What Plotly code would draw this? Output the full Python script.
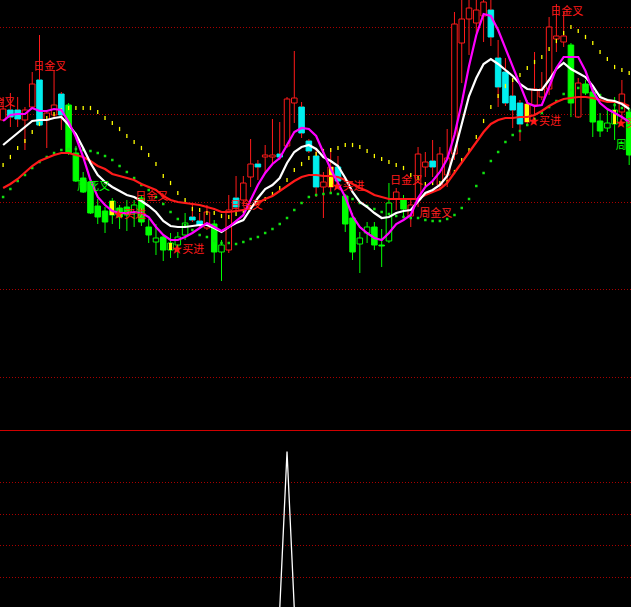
import plotly.graph_objects as go

# ---------------- data ----------------
idx = list(range(87))

open_ = [31.0, 32.0, 32.0, 31.0, 32.3, 35.0, 31.0, 31.5, 33.6, 32.5,
         27.7, 25.2, 24.8, 22.4, 21.9, 21.5, 22.2, 22.3, 21.7, 23.2,
         20.3, 18.8, 19.3, 18.0, 18.5, 19.5, 21.3, 20.9, 20.2, 20.6,
         17.8, 18.0, 23.2, 23.0, 25.3, 26.6, 27.3, 27.3, 27.6, 28.4,
         32.7, 32.3, 28.9, 27.4, 24.3, 24.3, 26.3, 23.4, 21.2, 18.6,
         19.7, 20.3, 18.5, 18.9, 23.1, 23.0, 21.4, 23.0, 26.3, 26.9,
         24.5, 25.5, 27.6, 38.7, 41.1, 40.7, 41.4, 42.0, 37.2, 35.8,
         33.4, 32.7, 30.8, 32.5, 33.3, 34.1, 39.1, 38.8, 38.5, 31.3,
         34.6, 33.8, 30.9, 30.2, 30.6, 31.8, 31.8]
close = [32.1, 31.3, 31.1, 32.0, 34.6, 30.5, 31.7, 32.5, 31.5, 27.7,
         24.9, 23.8, 21.7, 21.3, 20.8, 22.9, 21.3, 21.5, 22.5, 20.8,
         19.5, 19.2, 18.0, 18.7, 19.3, 20.7, 21.0, 20.5, 21.8, 17.8,
         18.5, 22.0, 22.3, 24.7, 26.6, 26.3, 27.5, 27.5, 27.3, 33.1,
         33.2, 29.7, 27.9, 24.3, 24.8, 26.3, 24.9, 20.6, 17.8, 19.2,
         20.3, 18.5, 18.4, 22.7, 23.8, 22.1, 22.5, 27.6, 26.8, 26.3,
         27.6, 27.2, 40.6, 41.1, 42.2, 42.0, 42.8, 39.3, 34.3, 32.7,
         32.0, 30.6, 32.6, 34.1, 34.1, 40.3, 39.4, 39.4, 32.7, 34.7,
         33.7, 30.8, 29.9, 30.7, 32.0, 33.6, 27.5]
high = [33.3, 33.7, 33.3, 32.3, 35.8, 39.5, 32.0, 36.0, 33.8, 32.7,
        28.4, 25.8, 25.2, 23.1, 22.3, 23.2, 22.5, 23.0, 23.0, 23.5,
        21.1, 20.6, 19.5, 19.7, 19.8, 21.7, 22.5, 21.7, 22.5, 21.0,
        19.0, 23.5, 25.4, 25.4, 29.1, 27.0, 28.5, 31.1, 30.8, 33.3,
        37.9, 32.8, 29.1, 28.0, 25.8, 28.2, 27.4, 23.6, 21.7, 19.8,
        20.8, 20.8, 20.1, 24.7, 24.2, 23.5, 23.0, 28.3, 27.8, 29.0,
        28.3, 30.1, 41.8, 43.5, 43.5, 43.3, 43.5, 43.3, 39.0, 37.2,
        34.9, 33.0, 33.0, 37.8, 35.8, 41.3, 42.6, 41.8, 38.7, 35.2,
        35.0, 34.2, 31.7, 32.2, 33.3, 35.0, 32.2]
low = [30.9, 30.3, 30.3, 28.0, 32.2, 30.4, 28.2, 31.2, 30.0, 27.5,
       24.8, 23.7, 21.6, 20.6, 19.7, 20.6, 20.1, 19.9, 20.3, 20.4,
       18.7, 17.5, 16.9, 17.2, 17.2, 19.0, 20.8, 20.2, 20.0, 16.7,
       14.9, 17.7, 22.0, 22.5, 24.3, 25.0, 25.7, 26.5, 27.0, 28.2,
       30.7, 29.2, 27.7, 23.3, 21.2, 23.8, 24.7, 19.8, 17.0, 15.7,
       18.7, 18.0, 16.3, 18.7, 22.0, 21.3, 20.3, 22.3, 25.3, 25.3,
       24.2, 24.3, 27.0, 34.7, 37.5, 39.7, 38.8, 38.4, 32.3, 32.4,
       30.2, 28.9, 30.6, 31.4, 33.0, 33.5, 37.8, 38.3, 31.3, 31.2,
       33.5, 29.3, 29.3, 29.8, 29.0, 31.0, 26.5]
# 1 = bar painted green by the indicator
weak = [0, 0, 0, 0, 0, 0, 0, 0, 0, 1,
        1, 1, 1, 1, 1, 1, 1, 1, 1, 1,
        1, 1, 1, 1, 1, 1, 0, 0, 0, 1,
        1, 0, 0, 0, 0, 0, 0, 0, 0, 0,
        0, 0, 0, 0, 0, 0, 0, 1, 1, 1,
        1, 1, 1, 1, 0, 1, 0, 0, 0, 0,
        0, 0, 0, 0, 0, 0, 0, 0, 0, 0,
        0, 0, 0, 0, 0, 0, 0, 0, 1, 0,
        1, 1, 1, 1, 1, 0, 1]

ma_short = [30.9, 31.5, 31.6, 31.6, 32.2, 31.9, 31.9, 32.1, 32.0, 30.8,
            29.3, 27.3, 25.0, 23.3, 22.5, 21.9, 21.7, 21.7, 21.8, 21.7,
            21.3, 20.3, 19.5, 19.0, 19.0, 19.3, 19.7, 20.2, 20.7, 20.3,
            19.9, 20.3, 20.9, 21.5, 23.0, 24.5, 25.7, 26.6, 27.2, 28.5,
            29.8, 30.2, 30.1, 29.4, 27.7, 26.1, 24.7, 23.3, 21.4, 20.3,
            19.7, 19.2, 19.0, 19.7, 20.6, 21.0, 21.5, 23.2, 24.3, 24.9,
            25.8, 27.1, 29.5, 32.7, 36.4, 39.5, 41.6, 41.4, 40.0, 38.2,
            36.3, 34.5, 32.7, 32.4, 32.5, 34.3, 36.2, 37.3, 37.3, 37.3,
            35.9, 33.9, 32.7, 32.1, 31.7, 31.3, 30.8]
ma_mid = [28.5, 29.1, 29.7, 30.3, 30.9, 31.0, 31.0, 31.2, 31.3, 30.5,
          29.6, 28.2, 26.7, 25.5, 24.8, 24.3, 23.9, 23.5, 23.3, 22.9,
          22.4, 21.8, 20.9, 20.4, 20.3, 20.3, 20.4, 20.5, 20.5, 20.2,
          19.8, 20.3, 20.7, 21.0, 22.1, 23.2, 24.1, 24.5, 25.2, 26.7,
          27.8, 28.3, 28.5, 28.1, 27.3, 26.9, 26.4, 25.2, 23.8, 22.8,
          22.3, 21.7, 21.2, 21.3, 21.7, 21.9, 22.0, 22.8, 23.7, 24.0,
          24.5, 25.4, 27.8, 30.6, 33.4, 35.2, 36.6, 37.1, 36.6, 36.0,
          35.4, 34.6, 34.1, 34.0, 34.0, 35.0, 36.1, 36.7, 36.1, 35.7,
          35.3, 34.4, 33.3, 33.0, 32.9, 32.6, 32.1]
ma_long = [24.2, 24.6, 25.1, 25.8, 26.4, 26.9, 27.2, 27.5, 27.7, 27.7,
           27.5, 27.3, 26.9, 26.4, 26.1, 25.6, 25.4, 25.2, 25.0, 24.6,
           24.3, 24.0, 23.4, 23.0, 22.8, 22.7, 22.6, 22.5, 22.3, 22.1,
           21.8, 21.8, 21.9, 22.0, 22.3, 22.7, 23.1, 23.4, 23.9, 24.4,
           24.9, 25.3, 25.5, 25.5, 25.4, 25.4, 25.3, 25.0, 24.6, 24.2,
           23.9, 23.5, 23.3, 23.1, 23.1, 23.1, 23.1, 23.1, 23.5, 23.8,
           24.1, 24.7, 25.7, 26.8, 27.8, 28.8, 29.8, 30.6, 31.0, 31.2,
           31.2, 31.3, 31.3, 31.5, 31.9, 32.4, 32.8, 33.1, 33.2, 33.3,
           33.3, 33.2, 33.0, 32.8, 32.8, 32.7, 32.4]
band_up = [26.5, 27.3, 28.2, 28.9, 29.8, 30.6, 31.2, 31.6, 32.0, 32.2,
           32.2, 32.2, 32.2, 31.8, 31.2, 30.7, 30.1, 29.4, 28.8, 28.2,
           27.5, 26.6, 25.4, 24.7, 23.7, 23.0, 22.1, 22.0, 21.7, 21.7,
           21.4, 21.3, 21.6, 21.9, 22.3, 22.7, 23.1, 23.6, 24.2, 25.0,
           26.0, 26.6, 27.2, 27.6, 27.9, 28.0, 28.2, 28.5, 28.5, 28.3,
           27.9, 27.4, 27.1, 26.8, 26.5, 26.2, 25.5, 25.2, 24.6, 24.7,
           24.7, 24.8, 25.8, 27.0, 28.0, 29.3, 30.9, 32.3, 33.4, 34.4,
           35.0, 35.5, 36.2, 36.8, 37.3, 38.1, 38.9, 39.7, 40.3, 39.9,
           39.3, 38.7, 37.8, 37.1, 36.3, 36.0, 35.7]
band_dn = [23.3, 24.1, 24.9, 25.5, 26.2, 26.8, 27.3, 27.7, 28.0, 28.1,
           28.1, 28.0, 27.9, 27.7, 27.4, 27.0, 26.4, 25.8, 25.2, 24.5,
           24.0, 23.3, 22.6, 21.8, 21.1, 20.5, 20.0, 19.5, 19.3, 18.9,
           18.7, 18.7, 18.6, 18.8, 19.1, 19.3, 19.7, 20.1, 20.6, 21.2,
           22.0, 22.7, 23.3, 23.5, 23.6, 23.7, 23.6, 23.4, 23.1, 22.7,
           22.4, 22.1, 21.8, 21.6, 21.4, 21.3, 21.2, 21.2, 21.0, 20.9,
           20.9, 21.1, 21.5, 22.2, 23.1, 24.4, 25.7, 26.9, 27.8, 28.8,
           29.5, 29.9, 30.5, 31.1, 31.7, 32.3, 32.9, 33.6, 34.0, 34.2,
           34.2, 34.0, 33.5, 33.0, 32.5, 32.2, 32.0]

buy_idx = [15, 23, 45, 72, 84]
day_cross_x = [-3, 4, 18, 31, 53, 75]
day_cross_y = [32.7, 36.3, 23.3, 22.4, 24.9, 41.8]
week_x = [10, 57, 84]
week_y = [24.25, 21.6, 28.4]
week_text = ["周死叉", "周金叉", "周死叉"]
week_color = ["#00ff00", "#ff2020", "#00ff00"]

osc = [0, 0, 0, 0, 0, 0, 0, 0, 0, 0,
       0, 0, 0, 0, 0, 0, 0, 0, 0, 0,
       0, 0, 0, 0, 0, 0, 0, 0, 0, 0,
       0, 0, 0, 0, 0, 0, 0, 0, 0, 100,
       0, 0, 0, 0, 0, 0, 0, 0, 0, 0,
       0, 0, 0, 0, 0, 0, 0, 0, 0, 0,
       0, 0, 0, 0, 0, 0, 0, 0, 0, 0,
       0, 0, 0, 0, 0, 0, 0, 0, 0, 0,
       0, 0, 0, 0, 0, 0, 0]

main_grid = [5.3, 14.1, 22.8, 31.6, 40.3]
sub_grid = [20, 40, 60, 80]

# ---------------- styles ----------------
RED = "#ff1a1a"
CYAN = "#00eeee"
GREEN = "#00ff00"
YELLOW = "#ffff00"
MAGENTA = "#ff00ff"
GRID = "#a80000"
FONT = "Noto Sans CJK SC"

fig = go.Figure()


def body_trace(sel, fill, edge):
    xs = [i for i in idx if sel(i)]
    base = [min(open_[i], close[i]) for i in xs]
    hgt = [max(abs(close[i] - open_[i]), 0.1) for i in xs]
    return go.Bar(x=xs, y=hgt, base=base, width=0.76,
                  marker=dict(color=fill, line=dict(color=edge, width=1)),
                  hoverinfo="skip", xaxis="x", yaxis="y")


fig.add_trace(body_trace(lambda i: not weak[i] and close[i] >= open_[i], "#000000", RED))
fig.add_trace(body_trace(lambda i: not weak[i] and close[i] < open_[i], CYAN, CYAN))
fig.add_trace(body_trace(lambda i: weak[i] and close[i] >= open_[i], "#000000", GREEN))
fig.add_trace(body_trace(lambda i: weak[i] and close[i] < open_[i], GREEN, GREEN))

# yellow signal bars
fig.add_trace(go.Bar(x=buy_idx,
                     y=[max(abs(close[i] - open_[i]), 0.1) for i in buy_idx],
                     base=[min(open_[i], close[i]) for i in buy_idx],
                     width=0.5, marker=dict(color=YELLOW, line=dict(width=0)),
                     hoverinfo="skip", xaxis="x", yaxis="y"))

# wicks (split so they do not cross hollow bodies)
for flag, col in ((0, RED), (1, GREEN)):
    wx, wy = [], []
    for i in idx:
        if weak[i] != flag:
            continue
        top = max(open_[i], close[i])
        bot = min(open_[i], close[i])
        if high[i] > top:
            wx += [i, i, None]
            wy += [top, high[i], None]
        if low[i] < bot:
            wx += [i, i, None]
            wy += [bot, low[i], None]
    fig.add_trace(go.Scatter(x=wx, y=wy, mode="lines", line=dict(color=col, width=1),
                             hoverinfo="skip", xaxis="x", yaxis="y"))

# dotted bands
fig.add_trace(go.Scatter(x=idx, y=band_up, mode="markers",
                         marker=dict(symbol="line-ns", size=3, line=dict(color=YELLOW, width=1.3)),
                         hoverinfo="skip", xaxis="x", yaxis="y"))
fig.add_trace(go.Scatter(x=idx, y=band_dn, mode="markers",
                         marker=dict(symbol="square", size=2.5, color="#10e010"),
                         hoverinfo="skip", xaxis="x", yaxis="y"))

# moving averages
fig.add_trace(go.Scatter(x=idx, y=ma_long, mode="lines", line=dict(color=RED, width=2.2),
                         hoverinfo="skip", xaxis="x", yaxis="y"))
fig.add_trace(go.Scatter(x=idx, y=ma_mid, mode="lines", line=dict(color="#ffffff", width=2.2),
                         hoverinfo="skip", xaxis="x", yaxis="y"))
fig.add_trace(go.Scatter(x=idx, y=ma_short, mode="lines", line=dict(color=MAGENTA, width=2.2),
                         hoverinfo="skip", xaxis="x", yaxis="y"))

# text signals
fig.add_trace(go.Scatter(x=[x + 0.15 for x in day_cross_x], y=day_cross_y, mode="text",
                         text=["日金叉"] * len(day_cross_x), textposition="middle right",
                         textfont=dict(family=FONT, size=11, color=RED),
                         hoverinfo="skip", xaxis="x", yaxis="y"))
fig.add_trace(go.Scatter(x=[x + 0.15 for x in week_x], y=week_y, mode="text",
                         text=week_text, textposition="middle right",
                         textfont=dict(family=FONT, size=11, color=week_color),
                         hoverinfo="skip", xaxis="x", yaxis="y"))
fig.add_trace(go.Scatter(x=[i + 0.1 for i in buy_idx],
                         y=[min(open_[i], close[i]) for i in buy_idx], mode="text",
                         text=["★买进"] * len(buy_idx), textposition="middle right",
                         textfont=dict(family=FONT, size=11, color=RED),
                         hoverinfo="skip", xaxis="x", yaxis="y"))

# lower indicator
fig.add_trace(go.Scatter(x=idx, y=osc, mode="lines", line=dict(color="#ffffff", width=1.3),
                         hoverinfo="skip", xaxis="x2", yaxis="y2"))

xr = [-0.426, 86.25]
fig.update_layout(
    width=631, height=607,
    margin=dict(l=0, r=0, t=0, b=0),
    paper_bgcolor="#000000", plot_bgcolor="#000000",
    showlegend=False, barmode="overlay", bargap=0,
    xaxis=dict(domain=[0, 1], range=xr, anchor="y", showgrid=False, zeroline=False,
               showticklabels=False, ticks="", showline=False),
    yaxis=dict(domain=[0.2916, 1], range=[0, 43], anchor="x", tickmode="array",
               tickvals=main_grid, showticklabels=False, ticks="", zeroline=False,
               showgrid=True, gridcolor=GRID, gridwidth=1, griddash="1px,2px", showline=False),
    xaxis2=dict(domain=[0, 1], range=xr, anchor="y2", matches="x", showgrid=False,
                zeroline=False, showticklabels=False, ticks="", showline=False),
    yaxis2=dict(domain=[0, 0.28995], range=[1.2, 113], anchor="x2", tickmode="array",
                tickvals=sub_grid, showticklabels=False, ticks="", zeroline=False,
                showgrid=True, gridcolor=GRID, gridwidth=1, griddash="1px,2px", showline=False),
    shapes=[dict(type="line", xref="paper", yref="paper", x0=0, x1=1,
                 y0=0.29077, y1=0.29077, line=dict(color="#d00000", width=1))],
)

fig.write_html("out.html",
               config={"displayModeBar": False, "staticPlot": True},
               post_script="document.body.style.margin='0';document.body.style.background='#000';")
